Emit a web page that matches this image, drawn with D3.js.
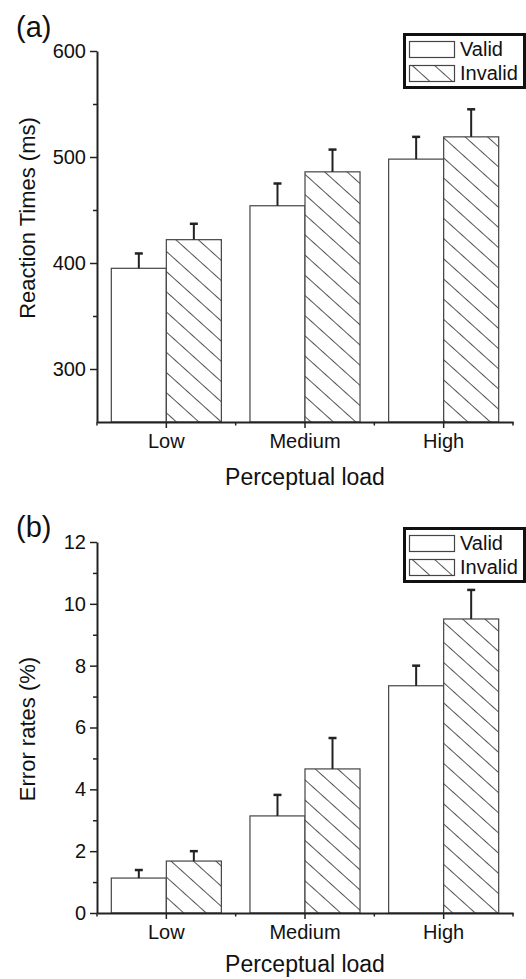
<!DOCTYPE html>
<html>
<head>
<meta charset="utf-8">
<script src="https://cdn.jsdelivr.net/npm/d3@7"></script>
<style>
  body { margin: 0; background: #fff; }
  svg { display: block; font-family: "Liberation Sans", Arial, Helvetica, sans-serif; }
</style>
</head>
<body>
<svg id="chart" width="526" height="979"></svg>
<script>
// data
const categories = ["Low", "Medium", "High"];
const conditions = ["Valid", "Invalid"];

// (a) reaction times, ms
const rtValid = [395, 454, 498];
const rtValidErr = [14, 21, 21];
const rtInvalid = [422, 486, 519];
const rtInvalidErr = [15, 21, 26];
const rtTicks = [300, 400, 500, 600];
const rtMinorTicks = [350, 450, 550];

// (b) error rates, %
const erValid = [1.13, 3.14, 7.35];
const erValidErr = [0.26, 0.68, 0.65];
const erInvalid = [1.68, 4.66, 9.51];
const erInvalidErr = [0.32, 1.0, 0.94];
const erTicks = [0, 2, 4, 6, 8, 10, 12];
const erMinorTicks = [1, 3, 5, 7, 9, 11];

const svg = d3.select("#chart");
const ink = "#222";

// hatch pattern for the invalid bars
const defs = svg.append("defs");
const pat = defs.append("pattern")
    .attr("id", "hatch")
    .attr("patternUnits", "userSpaceOnUse")
    .attr("width", 15).attr("height", 15)
    .attr("patternTransform", "rotate(42)");
pat.append("rect").attr("width", 15).attr("height", 15).attr("fill", "#fff");
pat.append("line").attr("x1", 0).attr("y1", 0.5).attr("x2", 15).attr("y2", 0.5)
    .attr("stroke", "#555").attr("stroke-width", 1);

function drawPanel(p) {
    const g = svg.append("g");
    const x = d3.scaleBand().domain(categories).range([97, 513]);
    const xSub = d3.scaleBand().domain(conditions).range([0, x.bandwidth()]).paddingOuter(0.26);
    const y = d3.scaleLinear().domain(p.domain).range([p.bottom, p.top]);

    const series = [
        {key: "Valid", values: p.valid, errs: p.validErr, fill: "#fff"},
        {key: "Invalid", values: p.invalid, errs: p.invalidErr, fill: "url(#hatch)"}
    ];

    // bars
    series.forEach(s => {
        g.selectAll(null).data(categories).enter().append("rect")
            .attr("x", (d) => x(d) + xSub(s.key))
            .attr("y", (d, i) => y(s.values[i]))
            .attr("width", xSub.bandwidth())
            .attr("height", (d, i) => p.bottom - y(s.values[i]))
            .attr("fill", s.fill)
            .attr("stroke", "#444")
            .attr("stroke-width", 1.2);
    });

    // error bars (upper only)
    series.forEach(s => {
        const cx = d => x(d) + xSub(s.key) + xSub.bandwidth() / 2;
        g.selectAll(null).data(categories).enter().append("line")
            .attr("x1", cx).attr("x2", cx)
            .attr("y1", (d, i) => y(s.values[i]))
            .attr("y2", (d, i) => y(s.values[i] + s.errs[i]))
            .attr("stroke", ink).attr("stroke-width", 2);
        g.selectAll(null).data(categories).enter().append("line")
            .attr("x1", d => cx(d) - 4).attr("x2", d => cx(d) + 4)
            .attr("y1", (d, i) => y(s.values[i] + s.errs[i]))
            .attr("y2", (d, i) => y(s.values[i] + s.errs[i]))
            .attr("stroke", ink).attr("stroke-width", 2.5);
    });

    // y axis
    const yAxis = g.append("g").attr("transform", "translate(97,0)")
        .call(d3.axisLeft(y).tickValues(p.ticks).tickSize(7).tickSizeOuter(0).tickPadding(4));
    g.append("g").attr("transform", "translate(97,0)")
        .call(d3.axisLeft(y).tickValues(p.minor).tickSize(4).tickFormat(""))
        .select(".domain").remove();

    // x axis
    const xAxis = g.append("g").attr("transform", "translate(0," + p.bottom + ")")
        .call(d3.axisBottom(x).tickSize(6).tickSizeOuter(0).tickPadding(6));
    const bounds = categories.map(d => x(d)).concat([x.range()[1]]);
    g.append("g").selectAll("line").data(bounds).enter().append("line")
        .attr("x1", d => d).attr("x2", d => d)
        .attr("y1", p.bottom).attr("y2", p.bottom + 3.5)
        .attr("stroke", ink).attr("stroke-width", 1.5);

    [yAxis, xAxis].forEach(a => {
        a.select(".domain").attr("stroke", ink).attr("stroke-width", 2);
        a.selectAll(".tick text").attr("font-size", 20).attr("fill", "#111")
            .attr("font-family", "Liberation Sans, Arial, sans-serif");
    });
    g.selectAll(".tick line").attr("stroke", ink).attr("stroke-width", 1.5);

    // labels
    g.append("text")
        .attr("transform", "translate(35," + p.yLabelY + ") rotate(-90)")
        .attr("text-anchor", "middle").attr("font-size", 22).attr("fill", "#111")
        .text(p.yLabel);
    g.append("text")
        .attr("x", 305).attr("y", p.titleY)
        .attr("text-anchor", "middle").attr("font-size", 23).attr("fill", "#111")
        .text("Perceptual load");
    g.append("text")
        .attr("x", 16).attr("y", p.tagY)
        .attr("font-size", 29).attr("fill", "#111")
        .text(p.tag);

    // legend
    const lg = g.append("g").attr("transform", "translate(0," + p.legendTop + ")");
    lg.append("rect").attr("x", 404.5).attr("y", 1.5).attr("width", 120).attr("height", 53)
        .attr("fill", "#fff").attr("stroke", "#111").attr("stroke-width", 3);
    const items = lg.selectAll(".legend-item").data(series).enter().append("g")
        .attr("class", "legend-item")
        .attr("transform", (d, i) => "translate(0," + (i * 24) + ")");
    items.append("rect")
        .attr("x", 409.5).attr("y", 8.5).attr("width", 45).attr("height", 16)
        .attr("fill", d => d.fill).attr("stroke", "#444").attr("stroke-width", 1.2);
    items.append("text")
        .attr("x", 460).attr("y", 23)
        .attr("font-size", 20).attr("fill", "#111")
        .text(d => d.key);
}

drawPanel({
    domain: [250, 600], top: 51, bottom: 422,
    valid: rtValid, validErr: rtValidErr, invalid: rtInvalid, invalidErr: rtInvalidErr,
    ticks: rtTicks, minor: rtMinorTicks,
    yLabel: "Reaction Times (ms)", yLabelY: 218,
    titleY: 485, tag: "(a)", tagY: 37, legendTop: 33
});

drawPanel({
    domain: [0, 12], top: 542, bottom: 913,
    valid: erValid, validErr: erValidErr, invalid: erInvalid, invalidErr: erInvalidErr,
    ticks: erTicks, minor: erMinorTicks,
    yLabel: "Error rates (%)", yLabelY: 729,
    titleY: 972, tag: "(b)", tagY: 537, legendTop: 527
});
</script>
</body>
</html>
